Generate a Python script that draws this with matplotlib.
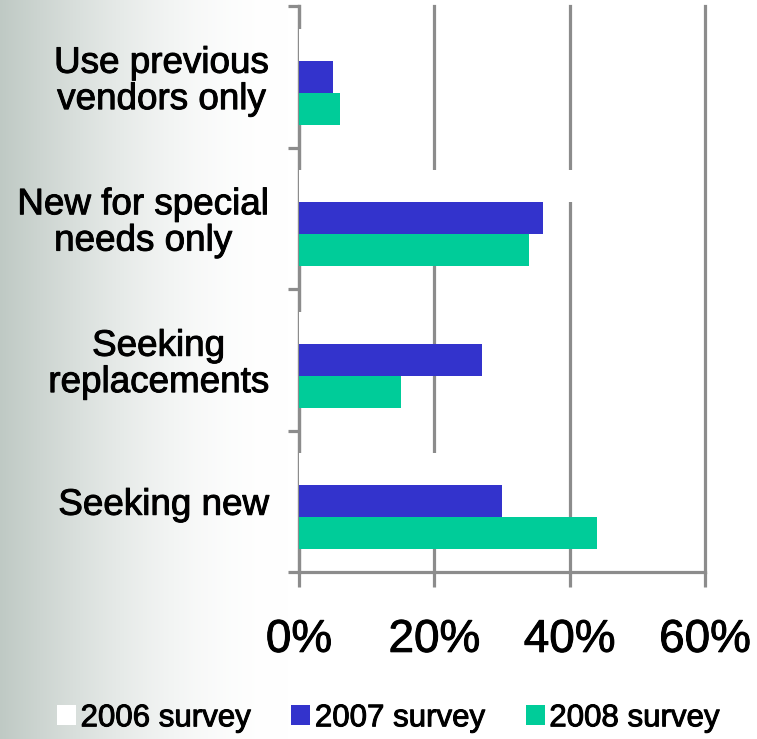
import numpy as np
import matplotlib
matplotlib.use('Agg')
import matplotlib.pyplot as plt
import matplotlib.patheffects as pe
from matplotlib.patches import Patch

# survey answers, top to bottom
categories = ['Use previous\nvendors only', 'New for special\nneeds only',
              'Seeking\nreplacements', 'Seeking new']
series_names = ['2006 survey', '2007 survey', '2008 survey']
s2006 = [13, 46, 12, 25]
s2007 = [5, 36, 27, 30]
s2008 = [6, 34, 15, 44]
x_ticks = [0, 20, 40, 60]
x_labels = ['0%', '20%', '40%', '60%']

colors = ['#ffffff', '#3333cc', '#00cc99']
grid_gray = '#8c8c8c'

plt.rcParams['font.family'] = ['Liberation Sans', 'DejaVu Sans']

fig = plt.figure(figsize=(7.57, 7.39), dpi=100)

# background gradient, gray-green on the left fading smoothly to white
bg = fig.add_axes([0, 0, 1, 1], zorder=-10)
xs = np.linspace(0, 1, 757)
t = np.sin(np.pi / 2 * np.clip(xs / 0.38, 0, 1))
left = np.array([0.75, 0.79, 0.77])
row = left[None, :] * (1 - t[:, None]) + np.ones(3)[None, :] * t[:, None]
bg.imshow(row[None, :, :], aspect='auto', extent=[0, 1, 0, 1])
bg.axis('off')

ax = fig.add_axes([299 / 757, 1 - 572 / 739, 406 / 757, 566 / 739])
ax.set_facecolor('none')

y = np.arange(len(categories))
h = 0.225
for k, (vals, name) in enumerate(zip([s2006, s2007, s2008], series_names)):
    ax.barh(y + (k - 1) * h, vals, height=h, color=colors[k],
            edgecolor='none', zorder=3, label=name)

# slightly heavier text, like the original rendering
heavy = [pe.withStroke(linewidth=0.7, foreground='black')]

ax.set_xlim(0, 60)
ax.set_ylim(3.5, -0.5)
ax.set_xticks(x_ticks)
ax.set_xticklabels(x_labels, fontsize=33)
ax.set_yticks(y)
ax.set_yticklabels(categories, fontsize=26.5, ha='right',
                   multialignment='center', linespacing=1.05)
ax.set_yticks([-0.5, 0.5, 1.5, 2.5, 3.5], minor=True)
for lab in ax.get_xticklabels() + ax.get_yticklabels():
    lab.set_path_effects(heavy)

ax.grid(axis='x', color=grid_gray, linewidth=2.3)
for gl in ax.get_xgridlines():
    gl.set_clip_on(False)
ax.set_axisbelow(True)
for side in ['top', 'right']:
    ax.spines[side].set_visible(False)
for side in ['left', 'bottom']:
    ax.spines[side].set_color(grid_gray)
    ax.spines[side].set_linewidth(2.3)

ax.tick_params(axis='x', length=11, width=2.3, color=grid_gray, pad=22)
ax.tick_params(axis='y', which='major', length=0, pad=22)
ax.tick_params(axis='y', which='minor', length=8, width=2.3, color=grid_gray)

handles = [Patch(facecolor=c, edgecolor='none') for c in colors]
leg = fig.legend(handles, series_names, loc='center', bbox_to_anchor=(0.513, 0.028),
                 ncol=3, frameon=False, fontsize=22.5, handlelength=0.6,
                 handleheight=0.6, handletextpad=0.15, columnspacing=1.3)
for txt in leg.get_texts():
    txt.set_path_effects(heavy)

fig.savefig('out.png', dpi=100)
